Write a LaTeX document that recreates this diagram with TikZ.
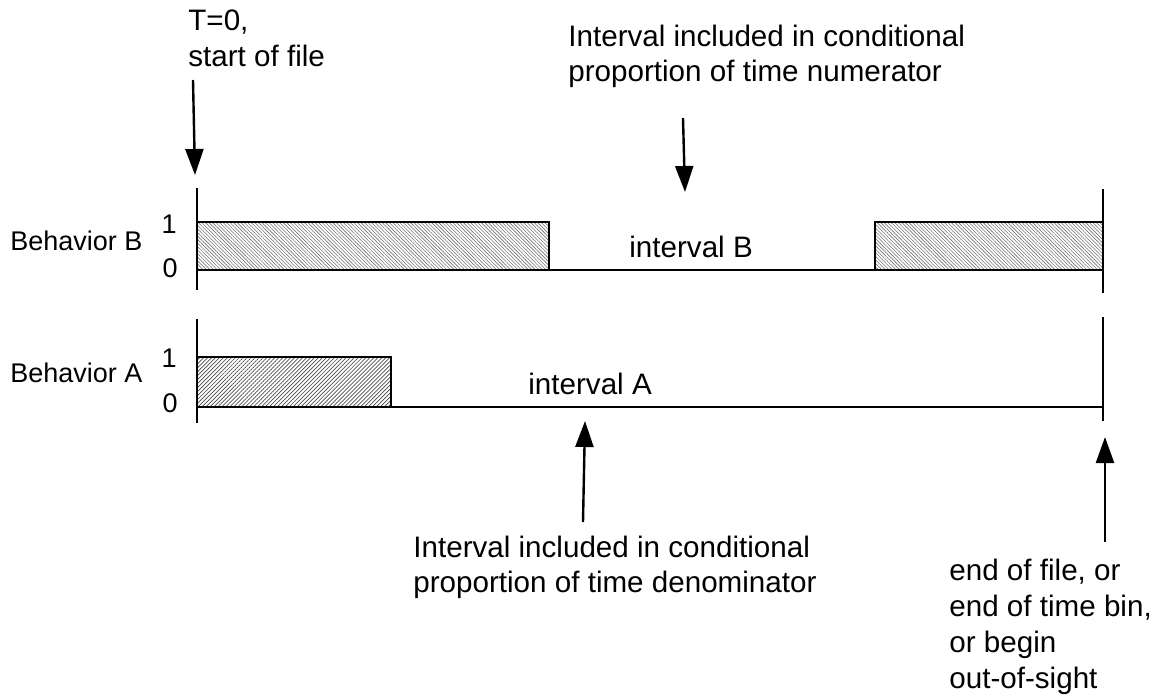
\documentclass[tikz,border=0pt]{standalone}
\usepackage{fontspec}
\setmainfont{Liberation Sans}
\usetikzlibrary{arrows.meta,patterns.meta}
\begin{document}
\begin{tikzpicture}[x=0.5pt,y=-0.5pt,
  axis/.style={line width=1.4pt},
  signal/.style={line width=1.4pt, line join=miter},
  hatchB/.style={pattern={Lines[angle=-45,distance=1.25pt,line width=0.3pt]},pattern color=black!55},
  hatchA/.style={pattern={Lines[angle=45,distance=1.4pt,line width=0.35pt]},pattern color=black!70},
  ann/.style={font=\fontsize{14.8}{17.5}\selectfont, inner sep=0pt, anchor=base west, align=left},
  lab/.style={font=\fontsize{13.5}{16}\selectfont, inner sep=0pt, anchor=base west},
  digit/.style={font=\fontsize{13.5}{16}\selectfont, inner sep=0pt, anchor=base east},
  pointer/.style={line width=1.2pt, -{Triangle[length=13pt,width=9pt]}}]

\useasboundingbox (0,0) rectangle (1164,696);

% Behavior B: on from the start, off during interval B, on again to the end
\fill[hatchB] (197,222) rectangle (549,270);
\fill[hatchB] (875,222) rectangle (1103,270);
\draw[signal] (197,222) -- (549,222) -- (549,270);
\draw[signal] (875,270) -- (875,222) -- (1103,222);
\draw[signal] (197,270) -- (1103,270);
\draw[axis] (197,188) -- (197,290);
\draw[axis] (1103,189) -- (1103,293);

% Behavior A: a single bout at the start, then off
\fill[hatchA] (197,357) rectangle (391,407);
\draw[signal] (197,357) -- (391,357) -- (391,407);
\draw[signal] (197,407) -- (1103,407);
\draw[axis] (197,319) -- (197,423);
\draw[axis] (1103,317) -- (1103,421);

% track labels and levels
\node[lab] (behB) at (10,250) {Behavior B};
\node[lab] (behA) at (10,382) {Behavior A};
\node[digit] (b1) at (177,233) {1};
\node[digit] (b0) at (178,277) {0};
\node[digit] (a1) at (177,367) {1};
\node[digit] (a0) at (178,412) {0};
\node[ann] (ivB) at (629,257) {interval B};
\node[ann] (ivA) at (528,394) {interval A};

% annotations (anchored at the baseline of their last line)
\node[ann] (t0) at (188,66) {T=0,\\start of file};
\node[ann] (num) at (568,82) {Interval included in conditional\\proportion of time numerator};
\node[ann] (den) at (413,592) {Interval included in conditional\\proportion of time denominator};
\node[ann, font=\fontsize{14.8}{18}\selectfont] (eof) at (949,688) {end of file, or\\end of time bin,\\or begin\\out-of-sight};

% arrow end points
\coordinate (t0tail) at (193,80);
\coordinate (t0tip) at (195,175);
\coordinate (numtail) at (683,118);
\coordinate (numtip) at (685,192);
\coordinate (dentail) at (583,522);
\coordinate (dentip) at (585,421);
\coordinate (eoftail) at (1105,542);
\coordinate (eoftip) at (1105,437);

\draw[pointer] (t0tail) -- (t0tip);
\draw[pointer] (numtail) -- (numtip);
\draw[pointer] (dentail) -- (dentip);
\draw[pointer] (eoftail) -- (eoftip);
\end{tikzpicture}
\end{document}
